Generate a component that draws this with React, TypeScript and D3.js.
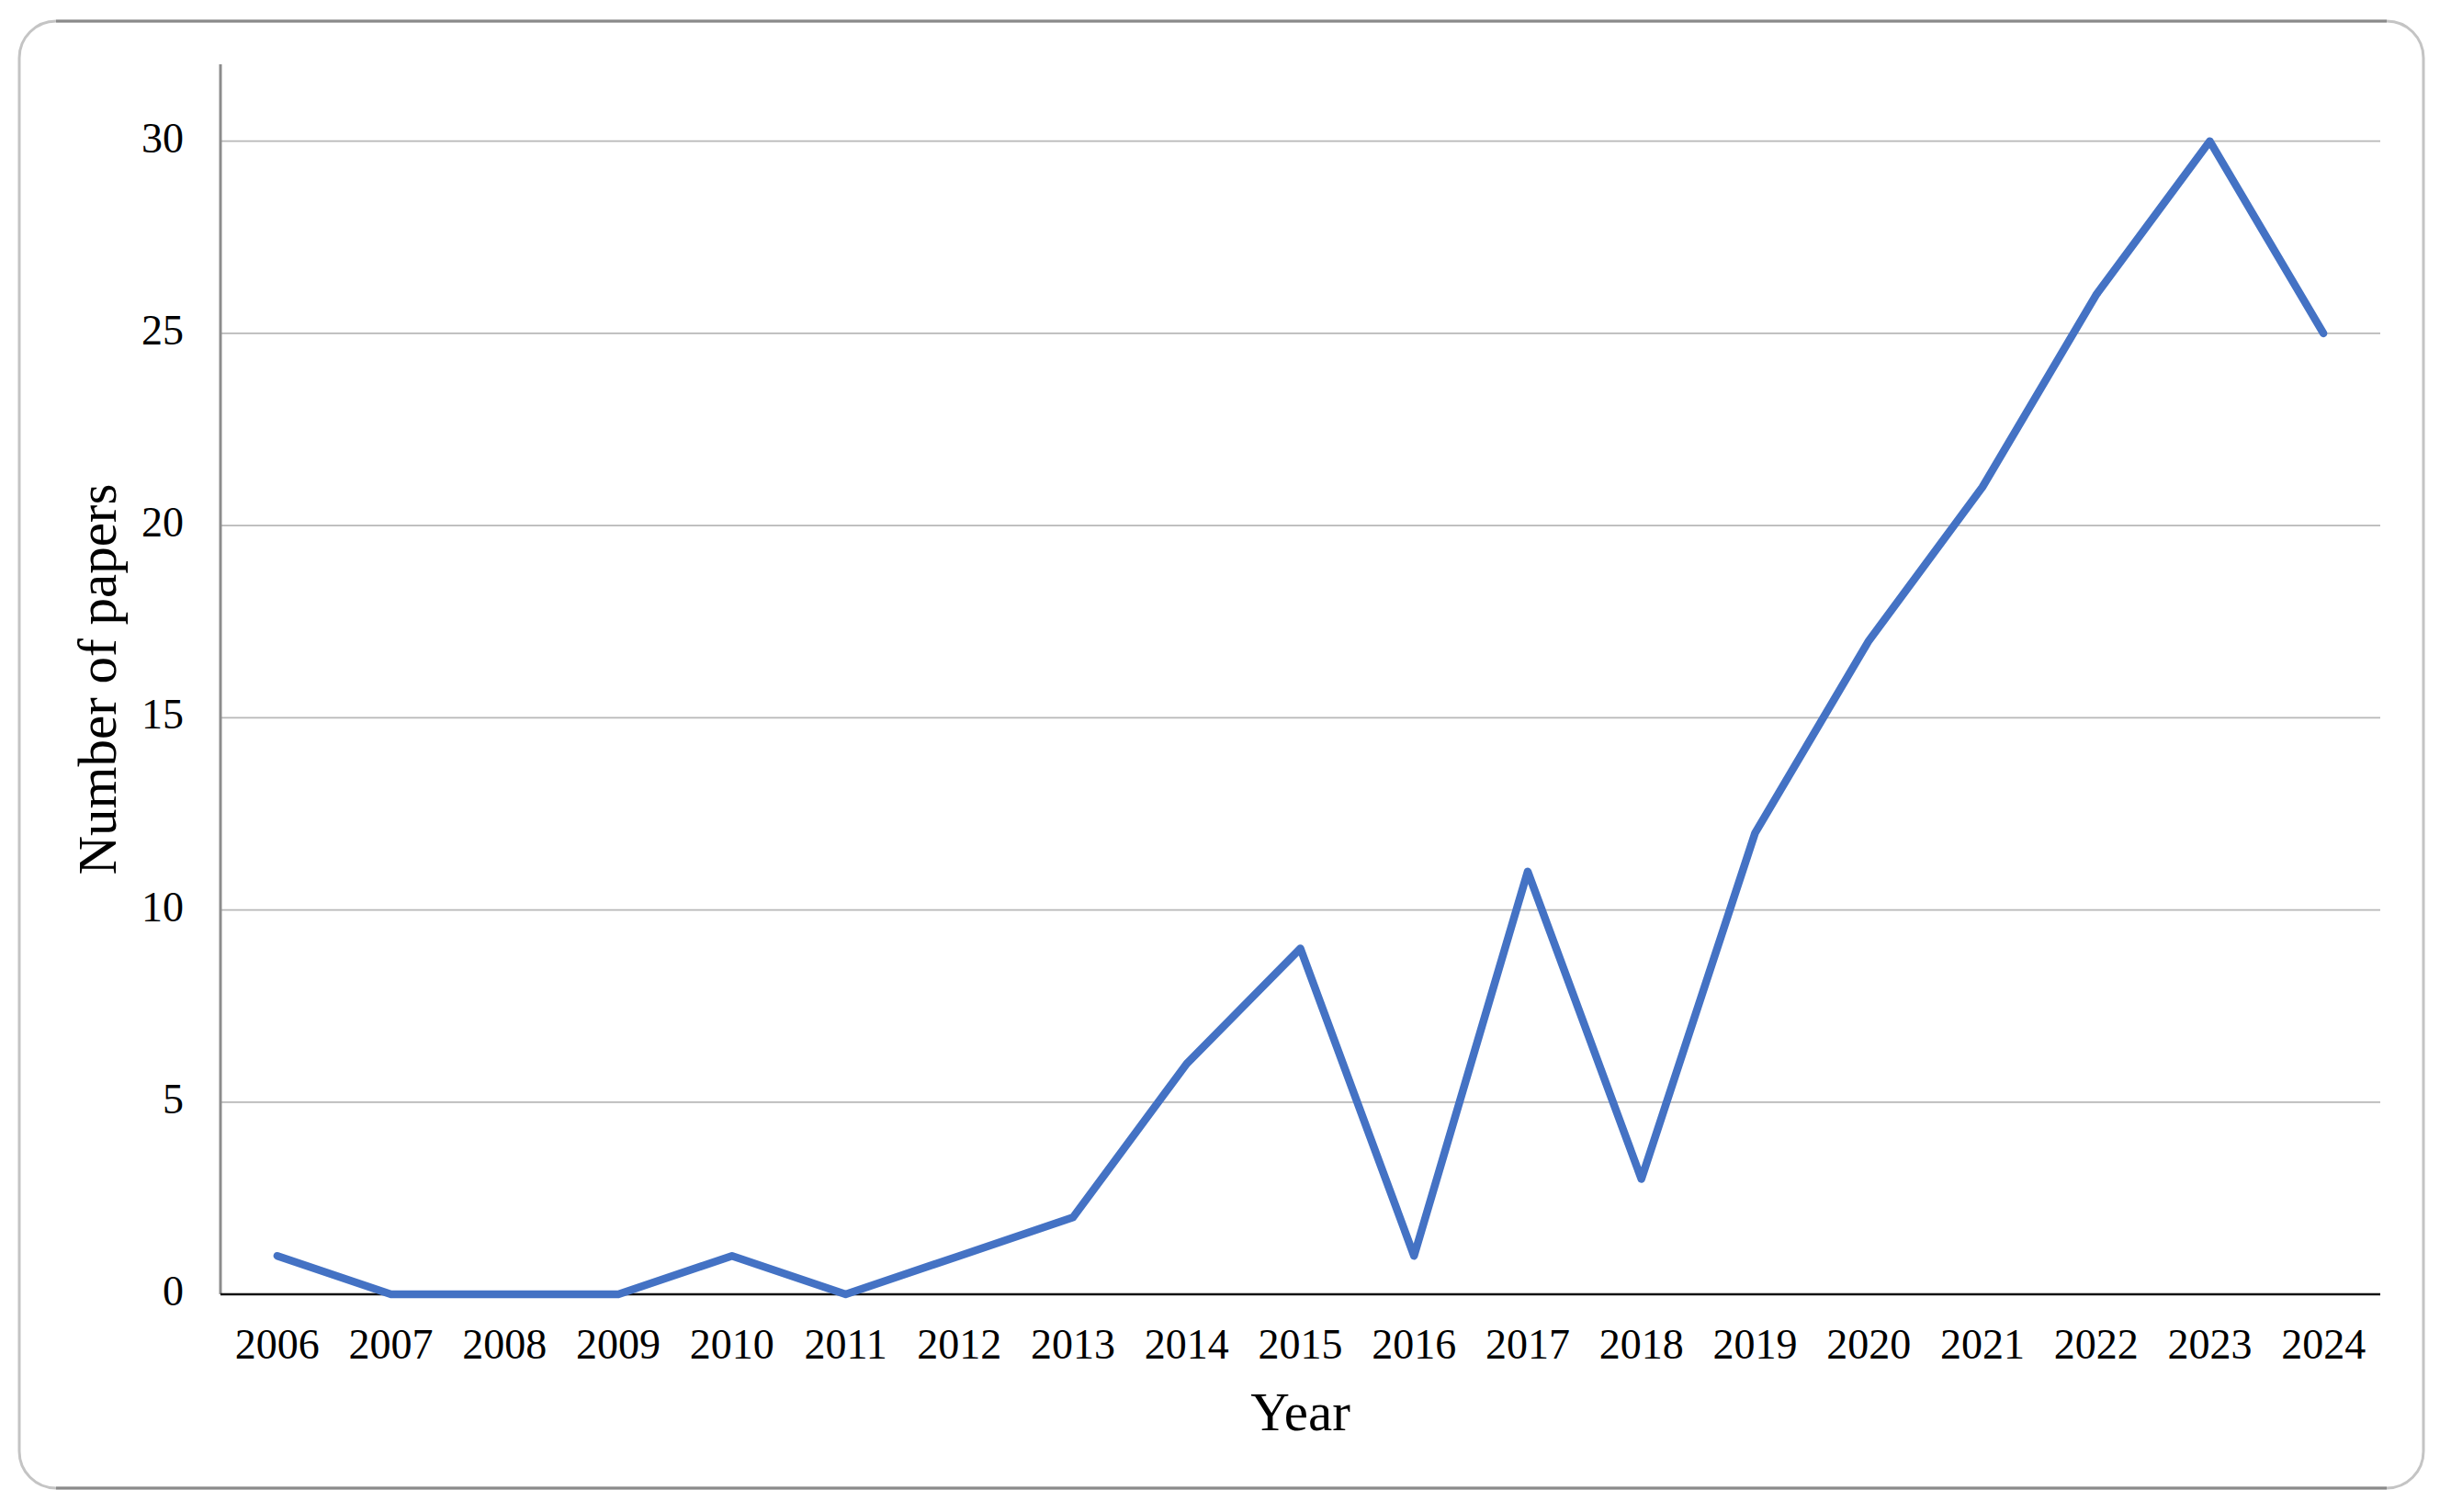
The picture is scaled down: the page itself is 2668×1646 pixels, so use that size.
import React from "react";
import * as d3 from "d3";

const years: string[] = ["2006","2007","2008","2009","2010","2011","2012","2013","2014","2015","2016","2017","2018","2019","2020","2021","2022","2023","2024"];
const papers: number[] = [1,0,0,0,1,0,1,2,6,9,1,11,3,12,17,21,26,30,25];
const yTicks: number[] = [0,5,10,15,20,25,30];

const W = 2668, H = 1646;
const left = 240, right = 2591, top = 70, bottom = 1409;
const font = "'Liberation Serif', 'Times New Roman', Times, serif";

export default function App() {
  const x = d3.scaleBand<string>().domain(years).range([left, right]);
  const y = d3.scaleLinear().domain([0, 32]).range([bottom, top]);
  const line = d3.line<number>()
    .x((_, i) => (x(years[i]) as number) + x.bandwidth() / 2)
    .y((d) => y(d));
  const r = 40, bl = 21, bt = 23, br = 2638, bb = 1620;
  return (
    <div style={{ position: "absolute", left: 0, top: 0 }}>
      <svg width={W} height={H} style={{ display: "block", background: "#fff" }}>
        <rect x={bl} y={bt} width={br - bl} height={bb - bt} rx={r} ry={r} fill="#fff" stroke="#c4c4c4" strokeWidth={3} />
        <line x1={bl + r} x2={br - r} y1={bt} y2={bt} stroke="#8a8a8a" strokeWidth={3} />
        <line x1={bl + r} x2={br - r} y1={bb} y2={bb} stroke="#8a8a8a" strokeWidth={3} />
        {yTicks.filter((t) => t > 0).map((t) => (
          <line key={"g" + t} x1={left} x2={right} y1={y(t)} y2={y(t)} stroke="#b8b8b8" strokeWidth={1.8} />
        ))}
        <line x1={left} x2={left} y1={top} y2={bottom} stroke="#8c8c8c" strokeWidth={3} />
        <line x1={left} x2={right} y1={bottom} y2={bottom} stroke="#111" strokeWidth={2.5} />
        {yTicks.map((t) => (
          <text key={"t" + t} x={200} y={y(t) + 12} textAnchor="end" fontFamily={font} fontSize={46} fill="#000">{t}</text>
        ))}
        {years.map((yr) => (
          <text key={yr} x={(x(yr) as number) + x.bandwidth() / 2} y={1479} textAnchor="middle" fontFamily={font} fontSize={46} fill="#000">{yr}</text>
        ))}
        <text x={(left + right) / 2} y={1557} textAnchor="middle" fontFamily={font} fontSize={59} fill="#000">Year</text>
        <text transform={`translate(126, ${(top + bottom) / 2}) rotate(-90)`} textAnchor="middle" fontFamily={font} fontSize={59} fill="#000">Number of papers</text>
        <path d={line(papers) || ""} fill="none" stroke="#4472C4" strokeWidth={8.5} strokeLinecap="round" strokeLinejoin="round" />
      </svg>
    </div>
  );
}
